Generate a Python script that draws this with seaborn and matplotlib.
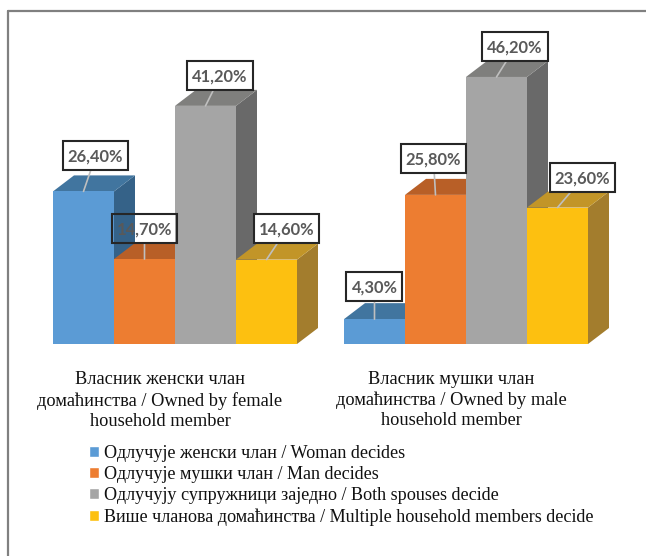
import matplotlib
matplotlib.use('Agg')
import matplotlib.pyplot as plt
from matplotlib.lines import Line2D
from matplotlib.patches import Polygon
from matplotlib.path import Path
from matplotlib.transforms import ScaledTranslation
import seaborn as sns
import pandas as pd

# Data
owners = ['Власник женски члан\nдомаћинства / Owned by female\nhousehold member',
          'Власник мушки члан\nдомаћинства / Owned by male\nhousehold member']
deciders = ['Одлучује женски члан / Woman decides',
            'Одлучује мушки члан / Man decides',
            'Одлучују супружници заједно / Both spouses decide',
            'Више чланова домаћинства / Multiple household members decide']
woman = [26.4, 4.3]
man = [14.7, 25.8]
both = [41.2, 46.2]
multiple = [14.6, 23.6]

# Colours of the front, top and side faces
front_colors = ['#5B9BD5', '#ED7D31', '#A5A5A5', '#FDC010']
top_colors = ['#41759F', '#B85F27', '#7F7F7D', '#C29528']
side_colors = ['#356288', '#A05324', '#696969', '#A37D2D']

# Label box offset from the bar's top centre in pixels, by series then group
label_offsets = [[(12, 36), (0, 33)],
                 [(0, 31), (-2, 36)],
                 [(14.5, 30), (18.5, 30.5)],
                 [(20, 31), (25, 30.5)]]

W, H = 646, 556
DPI = 100
DEPTH_X, DEPTH_Y = 21, 16  # 3d depth of the bars in pixels


# Taller than the text, with more room on top because of the comma's tail
def label_box(x0, y0, width, height, mutation_size):
    left, right = x0 - 5, x0 + width + 5
    bottom, top = y0 - 5.5, y0 + height + 7.5
    return Path([(left, bottom), (right, bottom), (right, top), (left, top), (left, bottom)],
                closed=True)


series = [woman, man, both, multiple]
rows = []
for name, vals in zip(deciders, series):
    for owner, v in zip(owners, vals):
        rows.append({'owner': owner, 'decider': name, 'value': v})
df = pd.DataFrame(rows)

sns.set_theme(style='white')
plt.rcParams['font.family'] = ['Liberation Serif', 'DejaVu Sans']

fig = plt.figure(figsize=(W / DPI, H / DPI), dpi=DPI)
ax = fig.add_axes([29.5 / W, (H - 344) / H, 582 / W, 289 / H])
ax.patch.set_alpha(0)

sns.barplot(data=df, x='owner', y='value', hue='decider', hue_order=deciders,
            palette=front_colors, saturation=1, width=0.8385, gap=0, ax=ax)
ax.set_xlim(-0.5, 1.5)
ax.set_ylim(0, 50)
ax.set_xlabel('')
ax.set_ylabel('')
ax.set_yticks([])
sns.despine(ax=ax, left=True, bottom=True)

# Pixel depth in data units
dx = DEPTH_X / 291
dy = DEPTH_Y / (289 / 50)

for i, container in enumerate(ax.containers):
    for j, bar in enumerate(container):
        x0, x1 = bar.get_x(), bar.get_x() + bar.get_width()
        h = bar.get_height()
        z = 2 + i
        ax.add_patch(Polygon([(x1, 0), (x1 + dx, dy), (x1 + dx, h + dy), (x1, h)],
                             fc=side_colors[i], ec='none', zorder=z, clip_on=False))
        ax.add_patch(Polygon([(x0, h), (x0 + dx, h + dy), (x1 + dx, h + dy), (x1, h)],
                             fc=top_colors[i], ec='none', zorder=z + 0.1, clip_on=False))
        bar.set_zorder(z + 0.2)
        bar.set_edgecolor('none')

        text = f'{h:.2f}'.replace('.', ',') + '%'
        off = label_offsets[i][j]
        off = (off[0], off[1] - 1)
        # the 14,70% box sits behind the blue side in the original
        fill_z = 1 if (i, j) == (1, 0) else 19
        common = dict(xy=((x0 + x1) / 2, h), xytext=off, textcoords='offset pixels',
                      ha='center', va='center', fontsize=11.9, fontweight='bold',
                      family=['Lato', 'DejaVu Sans'], annotation_clip=False)
        ax.annotate(text, color='none', zorder=fill_z,
                    bbox=dict(boxstyle=label_box, fc='white', ec='none'), **common)
        ax.annotate(text, color='#595959', zorder=20,
                    bbox=dict(boxstyle=label_box, fc='none', ec='#262626', lw=1.5),
                    arrowprops=dict(arrowstyle='-', color='#BFBFBF', lw=1.2,
                                    shrinkA=0, shrinkB=0), **common)

# Category labels sit a bit left of the bar groups
ax.tick_params(axis='x', length=0, pad=19.5, labelsize=13.2, colors='#111111')
shift = ScaledTranslation(-15 / DPI, 0, fig.dpi_scale_trans)
for lab in ax.get_xticklabels():
    lab.set_transform(lab.get_transform() + shift)
    lab.set_linespacing(1.26)

handles, labels = ax.get_legend_handles_labels()
leg = fig.legend(handles, labels, loc='upper left', bbox_to_anchor=(89 / W, 1 - 445 / H),
                 frameon=False, fontsize=13.05, borderpad=0, borderaxespad=0,
                 handlelength=0.55, handleheight=0.55, handletextpad=0.25, labelspacing=0.23,
                 labelcolor='#111111')
ax.get_legend().remove()

# Outer frame: only the top and left edges are in the crop
fig.add_artist(Line2D([7.5 / W, 7.5 / W], [0, 1 - 10.5 / H], color='#808080', lw=1.6))
fig.add_artist(Line2D([7.5 / W, 1], [1 - 10.5 / H, 1 - 10.5 / H], color='#808080', lw=1.6))

fig.savefig('out.png', dpi=DPI)
